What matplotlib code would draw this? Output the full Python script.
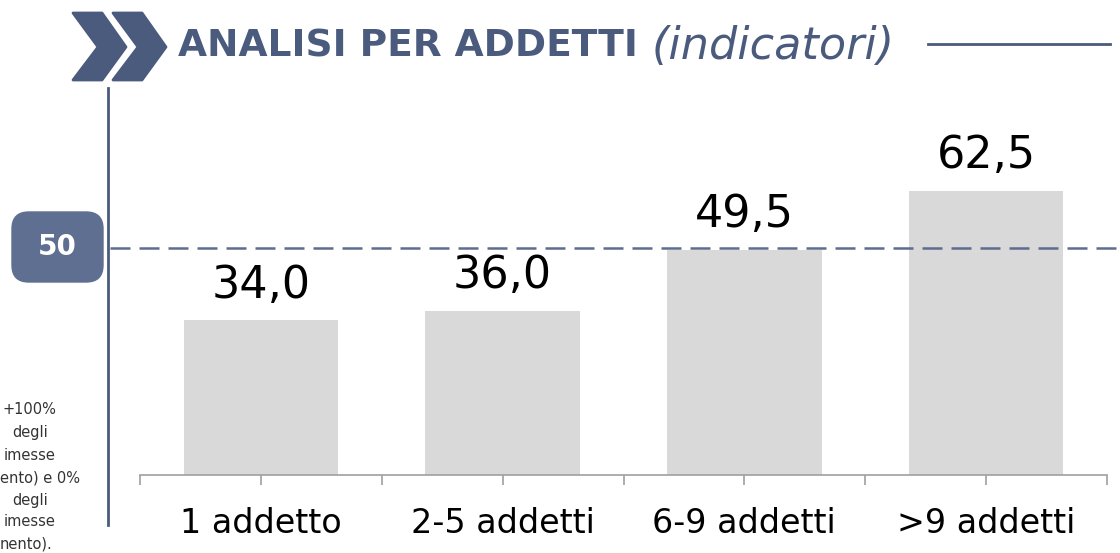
import matplotlib
matplotlib.use("Agg")
import matplotlib.pyplot as plt
from matplotlib.patches import Polygon, FancyBboxPatch
from matplotlib.lines import Line2D
from matplotlib.transforms import blended_transform_factory

categories = ["1 addetto", "2-5 addetti", "6-9 addetti", ">9 addetti"]
values = [34.0, 36.0, 49.5, 62.5]
threshold = 50
note_lines = ["+100%", "degli", "imesse", "ento) e 0%", "degli", "imesse", "nento)."]

W, H = 1120, 553
navy = "#4b5b7e"
box_col = "#5f6f91"


def px(x, y):
    # pixel coords (origin top-left) -> figure fraction
    return (x / W, 1 - y / H)


fig = plt.figure(figsize=(W / 100, H / 100), dpi=100)
ax = fig.add_axes([140 / W, 1 - 475 / H, (1107 - 140) / W, 375 / H])

x = range(len(categories))
ax.bar(x, values, width=0.64, color="#d9d9d9", zorder=2)
ax.set_xlim(-0.5, 3.5)
ax.set_ylim(0, 82.5)

for i, v in enumerate(values):
    ax.annotate(f"{v:.1f}".replace(".", ","), (i, v), xytext=(0, 10),
                textcoords="offset points", ha="center", va="bottom",
                fontsize=32, color="black")

# axis styling
for s in ["top", "right", "left"]:
    ax.spines[s].set_visible(False)
ax.spines["bottom"].set_color("#a0a0a0")
ax.spines["bottom"].set_linewidth(1.2)
ax.set_yticks([])
ax.set_xticks([-0.5, 0, 0.5, 1, 1.5, 2, 2.5, 3, 3.5])
ax.set_xticklabels([])
ax.tick_params(axis="x", length=7, width=1.2, color="#a0a0a0", direction="out")
for i, c in enumerate(categories):
    ax.text(i, -7, c, ha="center", va="top", fontsize=24, color="black")

# threshold dashed line, extends left past the axes
tr = blended_transform_factory(fig.transFigure, ax.transData)
ln = Line2D([110 / W, 1.0], [threshold, threshold], transform=tr,
            color="#5d6d8f", lw=1.8, linestyle=(0, (8, 3.6)), zorder=5)
ln.set_clip_on(False)
fig.add_artist(ln)

# threshold box
bx0, by0 = px(12, 282)
bx1, by1 = px(103, 212)
fig.add_artist(FancyBboxPatch((bx0, by0), bx1 - bx0, by1 - by0,
                              boxstyle="round,pad=0,rounding_size=0.015",
                              transform=fig.transFigure, color=box_col,
                              mutation_aspect=W / H))
fig.text(*px(57, 247), str(threshold), ha="center", va="center",
         fontsize=20, fontweight="bold", color="white")

# vertical line on the left
fig.add_artist(Line2D([108 / W, 108 / W], [1 - 88 / H, 1 - 525 / H],
                      transform=fig.transFigure, color=navy, lw=2))

# title chevrons
for dx in (0, 40):
    pts = [(73, 13), (102, 13), (126, 47), (102, 80), (73, 80), (98, 47)]
    pts = [px(a + dx, b) for a, b in pts]
    fig.add_artist(Polygon(pts, closed=True, transform=fig.transFigure,
                           color=navy, joinstyle="round", lw=2))

t1 = fig.text(*px(178, 47), "ANALISI PER ADDETTI", ha="left", va="center",
              fontsize=27, fontweight="bold", color=navy)
fig.canvas.draw()
ext = t1.get_window_extent()
fig.text(ext.x1 / W + 14 / W, 1 - 47 / H, "(indicatori)", ha="left", va="center",
         fontsize=32, style="italic", color=navy)
fig.add_artist(Line2D([928 / W, 1110 / W], [1 - 44 / H, 1 - 44 / H],
                      transform=fig.transFigure, color=navy, lw=2))

# clipped note text on the left
note_y = [410, 433, 455, 478, 500, 522, 544]
note_x = [2, 12, 4, 0, 12, 4, 0]
for t, yy, xx in zip(note_lines, note_y, note_x):
    fig.text(*px(xx, yy), t, ha="left", va="center", fontsize=10.5, color="#333333")

fig.savefig("out.png", dpi=100)
